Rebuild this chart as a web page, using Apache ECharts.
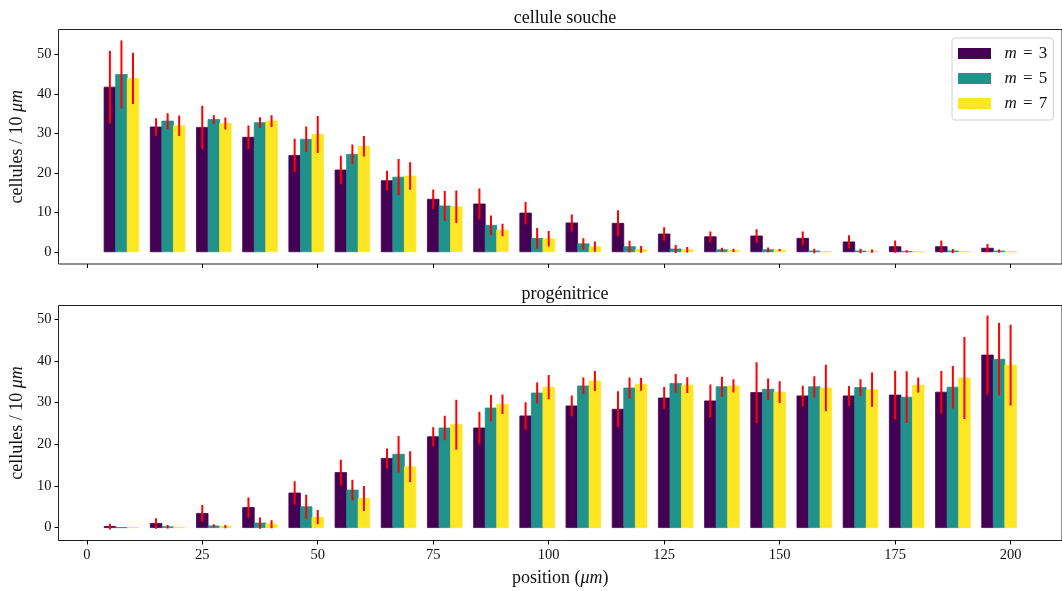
<!DOCTYPE html>
<html><head><meta charset="utf-8">
<script src="https://cdn.jsdelivr.net/npm/echarts@6/dist/echarts.min.js"></script>
<style>html,body{margin:0;padding:0;background:#fff}#c{width:1062px;height:591px}</style>
</head><body><div id="c"></div>
<script>
// ---- data ----
const positions = [5,15,25,35,45,55,65,75,85,95,105,115,125,135,145,155,165,175,185,195];
const xTicks = [0,25,50,75,100,125,150,175,200];
const yTicks = [0,10,20,30,40,50];
const seriesNames = ['m = 3','m = 5','m = 7'];
// cellule souche
const soucheM3 = [41.7,31.6,31.5,29.0,24.4,20.7,18.0,13.3,12.1,9.8,7.3,7.2,4.5,3.8,4.0,3.4,2.5,1.3,1.3,0.9];
const soucheM3Err = [9.2,2.2,5.5,3.0,4.2,3.6,2.5,2.45,3.9,2.8,2.15,3.3,1.7,1.35,1.7,1.75,1.7,1.55,1.55,1.05];
const soucheM5 = [44.9,33.1,33.5,32.7,28.5,24.7,18.9,11.6,6.7,3.4,2.0,1.3,0.7,0.5,0.5,0.2,0.2,0.1,0.2,0.2];
const soucheM5Err = [8.6,2.0,1.1,1.35,3.2,2.5,4.6,3.8,2.5,2.65,1.45,1.5,1.0,0.5,0.6,0.55,0.55,0.3,0.5,0.4];
const soucheM7 = [43.9,31.9,32.5,33.1,29.7,26.7,19.2,11.4,5.5,3.3,1.3,0.6,0.5,0.35,0.4,0,0.15,0,0,0];
const soucheM7Err = [6.5,2.6,1.5,1.5,4.7,2.6,3.5,4.1,1.6,1.95,1.3,0.85,0.7,0.4,0.3,0,0.4,0,0,0];
// progénitrice
const progM3 = [0.25,1.0,3.4,4.8,8.3,13.2,16.6,21.8,23.9,26.8,29.2,28.4,31.1,30.4,32.4,31.6,31.6,31.8,32.5,41.4];
const progM3Err = [0.7,1.25,2.0,2.45,2.8,3.1,2.4,2.3,3.9,3.3,2.5,4.35,2.65,3.95,7.3,2.45,2.4,5.85,5.1,9.5];
const progM5 = [0,0.2,0.4,1.1,5.0,9.0,17.6,23.9,28.7,32.3,34.0,33.5,34.6,33.8,33.2,33.8,33.6,31.3,33.7,40.4];
const progM5Err = [0,0.4,0.4,1.35,2.9,2.5,4.4,2.95,3.15,2.5,2.0,2.5,2.25,2.4,2.6,2.55,2.0,6.2,5.1,8.7];
const progM7 = [0,0,0.25,0.8,2.5,7.0,14.6,24.7,29.6,33.7,35.2,34.4,34.2,34.0,32.5,33.5,33.1,34.2,35.9,39.0];
const progM7Err = [0,0,0.4,0.95,1.7,3.0,3.7,6.0,2.35,2.9,2.4,1.55,1.9,1.6,2.6,5.6,4.1,1.8,9.85,9.7];

// ---- styling / layout ----
const colors = ['#440154','#21918c','#fde725'];
const BAR_W = 2.5;
const FONT = '"Liberation Serif", "DejaVu Serif", serif';
const TXT = '#111';

const panels = [
  {vals:[soucheM3,soucheM5,soucheM7], errs:[soucheM3Err,soucheM5Err,soucheM7Err]},
  {vals:[progM3,progM5,progM7], errs:[progM3Err,progM5Err,progM7Err]}
];

function barRender(offset){
  return function(params, api){
    const x = api.value(0) + offset, v = api.value(1);
    const a = api.coord([x - BAR_W/2, v]);
    const b = api.coord([x + BAR_W/2, 0]);
    const c = api.visual('color');
    return {type:'rect', shape:{x:a[0], y:Math.min(a[1],b[1]), width:b[0]-a[0], height:Math.abs(b[1]-a[1])},
      style:{fill:c, stroke:c, lineWidth:0.8, opacity:1}};
  };
}
function errRender(offset){
  return function(params, api){
    const x = api.value(0) + offset, v = api.value(1), e = api.value(2);
    if (!(e > 0)) return null;
    const a = api.coord([x, v - e]);
    const b = api.coord([x, v + e]);
    return {type:'line', shape:{x1:a[0], y1:a[1], x2:b[0], y2:b[1]}, style:{stroke:'#ff0000', lineWidth:2}};
  };
}

const series = [];
panels.forEach((p, pi) => {
  for (let k = 0; k < 3; k++) {
    const data = positions.map((x, i) => [x, p.vals[k][i], p.errs[k][i]]);
    series.push({type:'custom', name:seriesNames[k], xAxisIndex:pi, yAxisIndex:pi, data:data,
      itemStyle:{color:colors[k]}, renderItem:barRender(k*BAR_W), encode:{x:0, y:1}, z:2, clip:true});
  }
  for (let k = 0; k < 3; k++) {
    const data = positions.map((x, i) => [x, p.vals[k][i], p.errs[k][i]]);
    series.push({type:'custom', name:'err'+pi+k, xAxisIndex:pi, yAxisIndex:pi, data:data,
      itemStyle:{color:'#ff0000'}, renderItem:errRender(k*BAR_W), encode:{x:0, y:1}, z:3, clip:true});
  }
});

const labelStyle = {fontFamily:FONT, fontSize:14.5, color:TXT};
function xAxis(gi, showLabels){
  const ax = {type:'value', gridIndex:gi, min:-6.125, max:211.125,
    splitLine:{show:false}, axisLine:{show:false, onZero:false},
    axisTick:{show:true, inside:false, length:4, lineStyle:{color:'#000', width:1}, customValues:xTicks},
    axisLabel:Object.assign({show:showLabels, margin:7, customValues:xTicks}, labelStyle)};
  if (showLabels) {
    ax.name = 'position ({i|μm})';
    ax.nameLocation = 'middle';
    ax.nameGap = 29;
    ax.nameTextStyle = {fontFamily:FONT, fontSize:18, color:TXT, rich:{i:{fontFamily:FONT, fontSize:18, fontStyle:'italic', color:TXT}}};
  }
  return ax;
}
function yAxis(gi, min, max){
  return {type:'value', gridIndex:gi, min:min, max:max,
    splitLine:{show:false}, axisLine:{show:false, onZero:false},
    axisTick:{show:true, inside:false, length:4, lineStyle:{color:'#000', width:1}, customValues:yTicks},
    axisLabel:Object.assign({margin:7, customValues:yTicks}, labelStyle),
    name:'cellules / 10 {i|μm}', nameLocation:'middle', nameGap:32, nameRotate:90,
    nameTextStyle:{fontFamily:FONT, fontSize:18, color:TXT, rich:{i:{fontFamily:FONT, fontSize:18, fontStyle:'italic', color:TXT}}}};
}

const option = {
  animation:false,
  backgroundColor:'#fff',
  title:[
    {text:'cellule souche', left:560, top:4, textAlign:'center', textStyle:{fontFamily:FONT, fontSize:18, fontWeight:'normal', color:TXT}},
    {text:'progénitrice', left:560, top:280, textAlign:'center', textStyle:{fontFamily:FONT, fontSize:18, fontWeight:'normal', color:TXT}}
  ],
  grid:[
    {left:58.5, top:29.5, width:1003.5, height:234.5, show:true, borderColor:'#222', borderWidth:1, backgroundColor:'transparent'},
    {left:58.5, top:305.5, width:1003.5, height:235, show:true, borderColor:'#222', borderWidth:1, backgroundColor:'transparent'}
  ],
  xAxis:[xAxis(0,false), xAxis(1,true)],
  yAxis:[yAxis(0,-3.1,56.3), yAxis(1,-3.1,53.3)],
  legend:{
    data:seriesNames.map(n => ({name:n, icon:'rect'})),
    orient:'vertical', left:952, top:38,
    itemWidth:33, itemHeight:11, itemGap:8,
    padding:[7,6,8,6],
    borderColor:'#d0d0d0', borderWidth:1, borderRadius:3, backgroundColor:'rgba(255,255,255,0.8)',
    formatter:function(name){ return '  {i|m} {s|=} ' + name.split('= ')[1]; },
    textStyle:{fontFamily:FONT, fontSize:17, color:TXT, lineHeight:16,
      rich:{i:{fontFamily:FONT, fontSize:17, fontStyle:'italic', color:TXT, lineHeight:16},
            s:{fontFamily:FONT, fontSize:17, color:TXT, lineHeight:16, padding:[0,2,0,2]}}},
    selectedMode:false
  },
  series:series
};
const chart = echarts.init(document.getElementById('c'), null, {renderer:'canvas'});
chart.setOption(option);
</script>
</body></html>
